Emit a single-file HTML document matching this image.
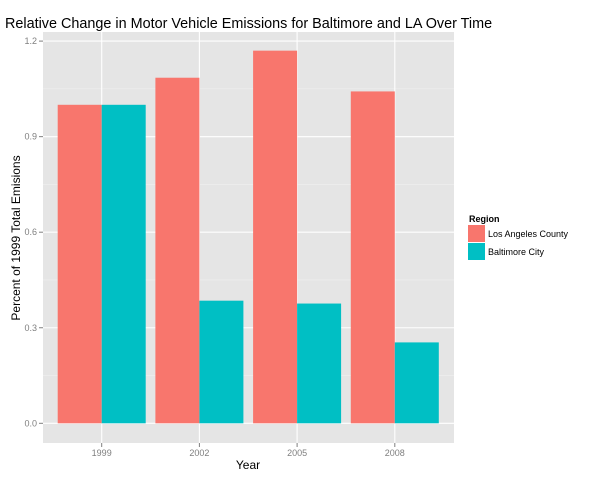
<!DOCTYPE html>
<html><head><meta charset="utf-8"><style>body{margin:0;background:#fff}svg{font-family:"Liberation Sans",sans-serif}</style></head>
<body>
<svg id="c" width="600" height="480" xmlns="http://www.w3.org/2000/svg">
<text x="5" y="28" font-size="14.4" fill="#000">Relative Change in Motor Vehicle Emissions for Baltimore and LA Over Time</text>
<rect x="43" y="32" width="411" height="411" fill="#e5e5e5"/>
<g id="grid"></g><g id="bars"></g><g id="axes"></g>
<text x="248" y="469" font-size="12" text-anchor="middle">Year</text>
<text transform="translate(20,238) rotate(-90)" font-size="12" text-anchor="middle">Percent of 1999 Total Emisions</text>
<g>
<text x="469" y="222" font-size="9" font-weight="bold">Region</text>
<rect x="468" y="225" width="17" height="17" fill="#f8766d"/>
<text x="488" y="237" font-size="9">Los Angeles County</text>
<rect x="468" y="243" width="17" height="17" fill="#00bfc4"/>
<text x="488" y="255" font-size="9">Baltimore City</text>
</g>
</svg>
<script>
const years=["1999","2002","2005","2008"];
const laValues=[1.0,1.085,1.17,1.042];
const baltValues=[1.0,0.385,0.376,0.254];
const yTicks=[0,0.3,0.6,0.9,1.2];
const NS="http://www.w3.org/2000/svg";
const y=v=>423.3-v*318.5;
const x=i=>101.7+i*97.7;
const bw=44;
function mk(tag,attrs,parent){const e=document.createElementNS(NS,tag);for(const k in attrs)e.setAttribute(k,attrs[k]);document.getElementById(parent).appendChild(e);return e;}
for(let v=0.15;v<1.3;v+=0.3){const l=mk('line',{x1:43,x2:454,y1:y(v),y2:y(v),stroke:'#f2f2f2','stroke-width':0.5},'grid');

}
yTicks.forEach(t=>{const l=mk('line',{x1:43,x2:454,y1:y(t),y2:y(t),stroke:'#fff','stroke-width':1.1},'grid');


const tk=mk('line',{x1:39,x2:43,y1:y(t),y2:y(t),stroke:'#7f7f7f'},'axes');


const tx=mk('text',{x:37,y:y(t)+3,'font-size':9,fill:'#7f7f7f','text-anchor':'end'},'axes');tx.textContent=t.toFixed(1);

});
years.forEach((yr,i)=>{const l=mk('line',{x1:x(i),x2:x(i),y1:32,y2:443,stroke:'#fff','stroke-width':1.1},'grid');


const a=mk('rect',{x:x(i)-bw,y:y(laValues[i]),width:bw,height:y(0)-y(laValues[i]),fill:'#f8766d'},'bars');


const b=mk('rect',{x:x(i),y:y(baltValues[i]),width:bw,height:y(0)-y(baltValues[i]),fill:'#00bfc4'},'bars');


const tk=mk('line',{x1:x(i),x2:x(i),y1:443,y2:447,stroke:'#7f7f7f'},'axes');


const tx=mk('text',{x:x(i),y:456,'font-size':9,fill:'#7f7f7f','text-anchor':'middle'},'axes');tx.textContent=yr;

});
</script>
</body></html>
